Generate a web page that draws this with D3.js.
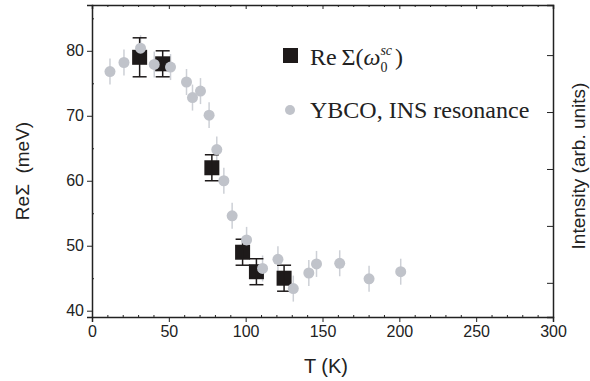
<!DOCTYPE html>
<html>
<head>
<meta charset="utf-8">
<script src="https://cdn.jsdelivr.net/npm/d3@7"></script>
<style>
  body { margin: 0; background: #fff; }
  .axis text { font-family: "Liberation Sans", Arial, sans-serif; font-size: 16px; fill: #222; }
  .axis path, .axis line { stroke: #222; }
</style>
</head>
<body>
<div id="chart"></div>
<script>
// ReΣ(ω0^sc) from ARPES, black squares with error bars
const sigmaT = [31, 46, 78, 98, 107, 125];
const sigmaVal = [79, 78, 62, 49, 46, 45];
const sigmaErr = [3, 2, 2, 2, 2, 2];

// YBCO INS resonance intensity, gray circles (plotted on the same scale)
const insT = [11.7, 20.8, 31.6, 40.5, 51.1, 61.5, 65.4, 70.6, 76.2, 81.2, 85.8, 91.2, 100.6, 111, 121, 131, 141.1, 146.1, 161.2, 180.3, 200.9];
const insVal = [76.8, 78.2, 80.4, 77.9, 77.5, 75.2, 72.8, 73.8, 70.1, 64.8, 60, 54.6, 50.9, 46.5, 47.9, 43.4, 45.8, 47.2, 47.3, 44.9, 46];
const insErr = 2;

const xTicks = [0, 50, 100, 150, 200, 250, 300];
const yTicks = [40, 50, 60, 70, 80];
const rightTicks = [1, 2, 3, 4, 5];

const margin = {top: 5, right: 37, bottom: 64, left: 92};
const W = 590, H = 381;
const width = W - margin.left - margin.right;
const height = H - margin.top - margin.bottom;

const svg = d3.select('#chart').append('svg')
    .attr('width', W)
    .attr('height', H);

const chart = svg.append('g')
    .attr('transform', `translate(${margin.left},${margin.top})`);

const x = d3.scaleLinear().domain([0, 300]).range([0, width]);
const y = d3.scaleLinear().domain([39.03, 87.05]).range([height, 0]);
const yRight = d3.scaleLinear().domain([0.4, 5.88]).range([height, 0]);

// minor ticks
const xMinor = d3.range(0, 301, 10).filter(d => d % 50 !== 0);
const yMinor = [45, 55, 65, 75, 85];

// bottom axis: major outward, minor inward
chart.append('g')
    .attr('class', 'axis')
    .attr('transform', `translate(0,${height})`)
    .call(d3.axisBottom(x).tickValues(xTicks).tickSize(5).tickPadding(4))
    .call(g => g.select('.domain').attr('stroke-width', 1.5));

chart.append('g')
    .attr('class', 'axis')
    .attr('transform', `translate(0,${height})`)
    .call(d3.axisBottom(x).tickValues(xMinor).tickSize(-2).tickFormat(''))
    .call(g => g.select('.domain').remove())
    .call(g => g.selectAll('line').attr('stroke', '#999'));

// top axis: ticks inward
chart.append('g')
    .attr('class', 'axis')
    .call(d3.axisTop(x).tickValues(xTicks).tickSize(-4).tickFormat(''))
    .call(g => g.select('.domain').attr('stroke-width', 1.5));

chart.append('g')
    .attr('class', 'axis')
    .call(d3.axisTop(x).tickValues(xMinor).tickSize(-2).tickFormat(''))
    .call(g => g.select('.domain').remove())
    .call(g => g.selectAll('line').attr('stroke', '#999'));

// left axis
chart.append('g')
    .attr('class', 'axis')
    .call(d3.axisLeft(y).tickValues(yTicks).tickSize(5).tickPadding(3))
    .call(g => g.select('.domain').attr('stroke-width', 1.5));

chart.append('g')
    .attr('class', 'axis')
    .call(d3.axisLeft(y).tickValues(yMinor).tickSize(-2).tickFormat(''))
    .call(g => g.select('.domain').remove())
    .call(g => g.selectAll('line').attr('stroke', '#666'));

// right axis (intensity, no labels)
chart.append('g')
    .attr('class', 'axis')
    .attr('transform', `translate(${width},0)`)
    .call(d3.axisRight(yRight).tickValues(rightTicks).tickSize(-6).tickFormat(''))
    .call(g => g.select('.domain').attr('stroke-width', 1.5));

// gray error bars + circles
const ins = insT.map((t, i) => ({t, v: insVal[i]}));
chart.append('g').selectAll('line')
    .data(ins)
  .join('line')
    .attr('x1', d => x(d.t)).attr('x2', d => x(d.t))
    .attr('y1', d => y(d.v - insErr)).attr('y2', d => y(d.v + insErr))
    .attr('stroke', '#cdd0d6')
    .attr('stroke-width', 1.5);

// black squares with error bars
const sig = sigmaT.map((t, i) => ({t, v: sigmaVal[i], e: sigmaErr[i]}));
const sq = 15;
const sigG = chart.append('g');
sigG.selectAll('rect')
    .data(sig)
  .join('rect')
    .attr('x', d => x(d.t) - sq / 2)
    .attr('y', d => y(d.v) - sq / 2)
    .attr('width', sq)
    .attr('height', sq)
    .attr('fill', '#1e1a1a');

const errG = sigG.selectAll('g.err')
    .data(sig)
  .join('g')
    .attr('class', 'err')
    .attr('stroke', '#1e1a1a')
    .attr('stroke-width', 1.5);
errG.append('line')
    .attr('x1', d => x(d.t)).attr('x2', d => x(d.t))
    .attr('y1', d => y(d.v - d.e)).attr('y2', d => y(d.v + d.e));
errG.append('line')
    .attr('x1', d => x(d.t) - 7).attr('x2', d => x(d.t) + 7)
    .attr('y1', d => y(d.v + d.e)).attr('y2', d => y(d.v + d.e));
errG.append('line')
    .attr('x1', d => x(d.t) - 7).attr('x2', d => x(d.t) + 7)
    .attr('y1', d => y(d.v - d.e)).attr('y2', d => y(d.v - d.e));

chart.append('g').selectAll('circle')
    .data(ins)
  .join('circle')
    .attr('cx', d => x(d.t))
    .attr('cy', d => y(d.v))
    .attr('r', 5.5)
    .attr('fill', '#c0c3ca');

// legend
const legend = svg.append('g');
legend.append('rect')
    .attr('x', 283).attr('y', 48)
    .attr('width', 15).attr('height', 15)
    .attr('fill', '#1e1a1a');
const t1 = legend.append('text')
    .attr('x', 310).attr('y', 65)
    .attr('font-family', '"Liberation Serif", "Times New Roman", serif')
    .attr('font-size', 24)
    .attr('fill', '#222');
t1.append('tspan').text('Re\u2009\u03A3(');
t1.append('tspan').attr('font-style', 'italic').text('\u03C9');
t1.append('tspan').attr('font-size', 14).attr('dy', 7).text('0');
t1.append('tspan').attr('font-size', 14).attr('font-style', 'italic').attr('dx', -7).attr('dy', -17).text('sc');
t1.append('tspan').attr('dy', 10).attr('dx', 3).text(')');

legend.append('circle')
    .attr('cx', 290).attr('cy', 110)
    .attr('r', 5)
    .attr('fill', '#c0c3ca');
legend.append('text')
    .attr('x', 310).attr('y', 118)
    .attr('font-family', '"Liberation Serif", "Times New Roman", serif')
    .attr('font-size', 24)
    .attr('fill', '#222')
    .text('YBCO, INS resonance');

// axis titles
svg.append('text')
    .attr('x', 326).attr('y', 373)
    .attr('text-anchor', 'middle')
    .attr('font-family', '"Liberation Sans", Arial, sans-serif')
    .attr('font-size', 20)
    .attr('fill', '#222')
    .text('T (K)');

svg.append('text')
    .attr('transform', 'translate(29,171) rotate(-90)')
    .attr('text-anchor', 'middle')
    .attr('font-family', '"Liberation Sans", Arial, sans-serif')
    .attr('font-size', 19)
    .attr('fill', '#222')
    .text('Re\u03A3  (meV)')
    .style('white-space', 'pre');

svg.append('text')
    .attr('transform', 'translate(585,166) rotate(-90)')
    .attr('text-anchor', 'middle')
    .attr('font-family', '"Liberation Sans", Arial, sans-serif')
    .attr('font-size', 19)
    .attr('fill', '#222')
    .text('Intensity (arb. units)');
</script>
</body>
</html>
